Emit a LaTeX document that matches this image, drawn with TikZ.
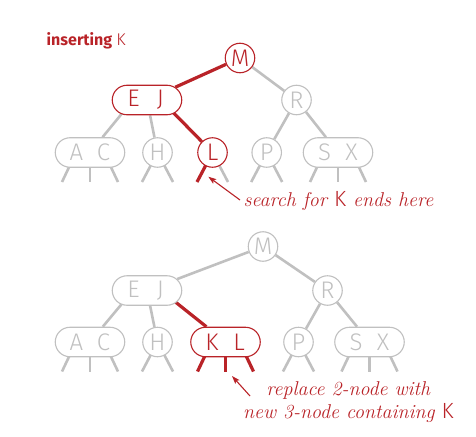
\documentclass[tikz,border=0pt]{standalone}
\usepackage{fontspec}
\newfontfamily\keyfont{Fira Sans Light}
\newfontfamily\labfont{Fira Sans}
\usetikzlibrary{shapes.misc,backgrounds,calc,arrows.meta}
\definecolor{cred}{RGB}{185,35,40}
\definecolor{lgray}{RGB}{192,192,192}
\newcommand\twokeys[2]{\makebox[0pt]{\makebox[27pt]{#1}\makebox[27pt]{#2}}}
\newcommand\stubstwo[3]{%
  \coordinate (#1-sl) at ($(#1)+(-15.5,29.5)$);
  \coordinate (#1-sr) at ($(#1)+(15.5,29.5)$);
  \draw[#2] (#1.center) -- (#1-sl);
  \draw[#3] (#1.center) -- (#1-sr);}
\newcommand\stubsthree[4]{%
  \coordinate (#1-sl) at ($(#1)+(-28,29.5)$);
  \coordinate (#1-sm) at ($(#1)+(0,29.5)$);
  \coordinate (#1-sr) at ($(#1)+(28,29.5)$);
  \draw[#2] (#1-kl) -- (#1-sl);
  \draw[#3] (#1.center) -- (#1-sm);
  \draw[#4] (#1-kr) -- (#1-sr);}
\newcommand\keypts[1]{%
  \coordinate (#1-kl) at ($(#1)+(-14,0)$);
  \coordinate (#1-kr) at ($(#1)+(14,0)$);}
\begin{document}
\begin{tikzpicture}[x=1pt,y=-1pt,
  kf/.style={font=\keyfont\fontsize{24}{24}\selectfont},
  node2/.style={circle,draw=lgray,line width=1.1pt,fill=white,minimum size=29.5pt,inner sep=0pt,text=lgray,kf},
  node3/.style={rounded rectangle,draw=lgray,line width=1.1pt,fill=white,minimum width=69.5pt,minimum height=29.5pt,inner sep=0pt,text=lgray,kf},
  hot/.style={draw=cred,text=cred},
  glink/.style={draw=lgray,line width=2.6pt},
  hlink/.style={draw=cred,line width=3.2pt},
  arr/.style={draw=cred,line width=1.1pt,-{Stealth[length=8pt,width=5.5pt,inset=1.5pt]}},
  capt/.style={text=cred,font=\fontsize{20}{23.3}\selectfont\itshape,inner sep=0pt}
]
\useasboundingbox (0,0) rectangle (476,436);

% ---------- top tree ----------
\node[node2,hot] (M1) at (240,58) {M};
\node[node3,hot] (EJ1) at (147,100) {\twokeys{E}{J}};
\node[node2] (R1) at (296.5,100) {R};
\node[node3] (AC1) at (90,152.5) {\twokeys{A}{C}};
\node[node2] (H1) at (157.5,152.5) {H};
\node[node2,hot] (L1) at (212.5,152.5) {L};
\node[node2] (P1) at (266.7,152.5) {P};
\node[node3] (SX1) at (338,152.5) {\twokeys{S}{X}};

% ---------- bottom tree ----------
\node[node2] (M2) at (263,246.5) {M};
\node[node3] (EJ2) at (147,290.5) {\twokeys{E}{J}};
\node[node2] (R2) at (327.5,290.5) {R};
\node[node3] (AC2) at (90,342) {\twokeys{A}{C}};
\node[node2] (H2) at (157.5,342) {H};
\node[node3,hot] (KL2) at (225.5,342) {\twokeys{K}{L}};
\node[node2] (P2) at (298.5,342) {P};
\node[node3] (SX2) at (369.5,342) {\twokeys{S}{X}};

\begin{pgfonlayer}{background}
  \keypts{EJ1}\keypts{AC1}\keypts{SX1}
  \keypts{EJ2}\keypts{AC2}\keypts{KL2}\keypts{SX2}
  % top links
  \draw[hlink] (M1) -- (EJ1);
  \draw[glink] (M1) -- (R1);
  \draw[glink] (EJ1-kl) -- (AC1);
  \draw[glink] (EJ1) -- (H1);
  \draw[hlink] (EJ1-kr) -- (L1);
  \draw[glink] (R1) -- (P1);
  \draw[glink] (R1) -- (SX1);
  \stubsthree{AC1}{glink}{glink}{glink}
  \stubstwo{H1}{glink}{glink}
  \stubstwo{L1}{hlink}{glink}
  \stubstwo{P1}{glink}{glink}
  \stubsthree{SX1}{glink}{glink}{glink}
  % bottom links
  \draw[glink] (M2) -- (EJ2);
  \draw[glink] (M2) -- (R2);
  \draw[glink] (EJ2-kl) -- (AC2);
  \draw[glink] (EJ2) -- (H2);
  \draw[hlink] (EJ2-kr) -- (KL2);
  \draw[glink] (R2) -- (P2);
  \draw[glink] (R2) -- (SX2);
  \stubsthree{AC2}{glink}{glink}{glink}
  \stubstwo{H2}{glink}{glink}
  \stubsthree{KL2}{hlink}{hlink}{hlink}
  \stubstwo{P2}{glink}{glink}
  \stubsthree{SX2}{glink}{glink}{glink}
\end{pgfonlayer}

% ---------- labels ----------
\node[anchor=base west,inner sep=0pt,text=cred,font=\labfont\fontsize{16}{16}\selectfont] (title) at (46.5,45.7) {\textbf{inserting} {\keyfont\fontsize{17}{17}\selectfont K}};
\node[capt,anchor=base west] (c1) at (243.3,206.7) {search for {\upshape\keyfont\fontsize{22}{22}\selectfont K} ends here};
\node[capt,anchor=base,align=center] (c2) at (348.3,418.3) {replace 2-node with\\new 3-node containing {\upshape\keyfont\fontsize{22}{22}\selectfont K}};

\coordinate (a1t) at (240,200);
\coordinate (a1h) at (208.3,176.7);
\draw[arr] (a1t) -- (a1h);
\coordinate (a2t) at (250,396);
\coordinate (a2h) at (232,376);
\draw[arr] (a2t) -- (a2h);
\end{tikzpicture}
\end{document}
